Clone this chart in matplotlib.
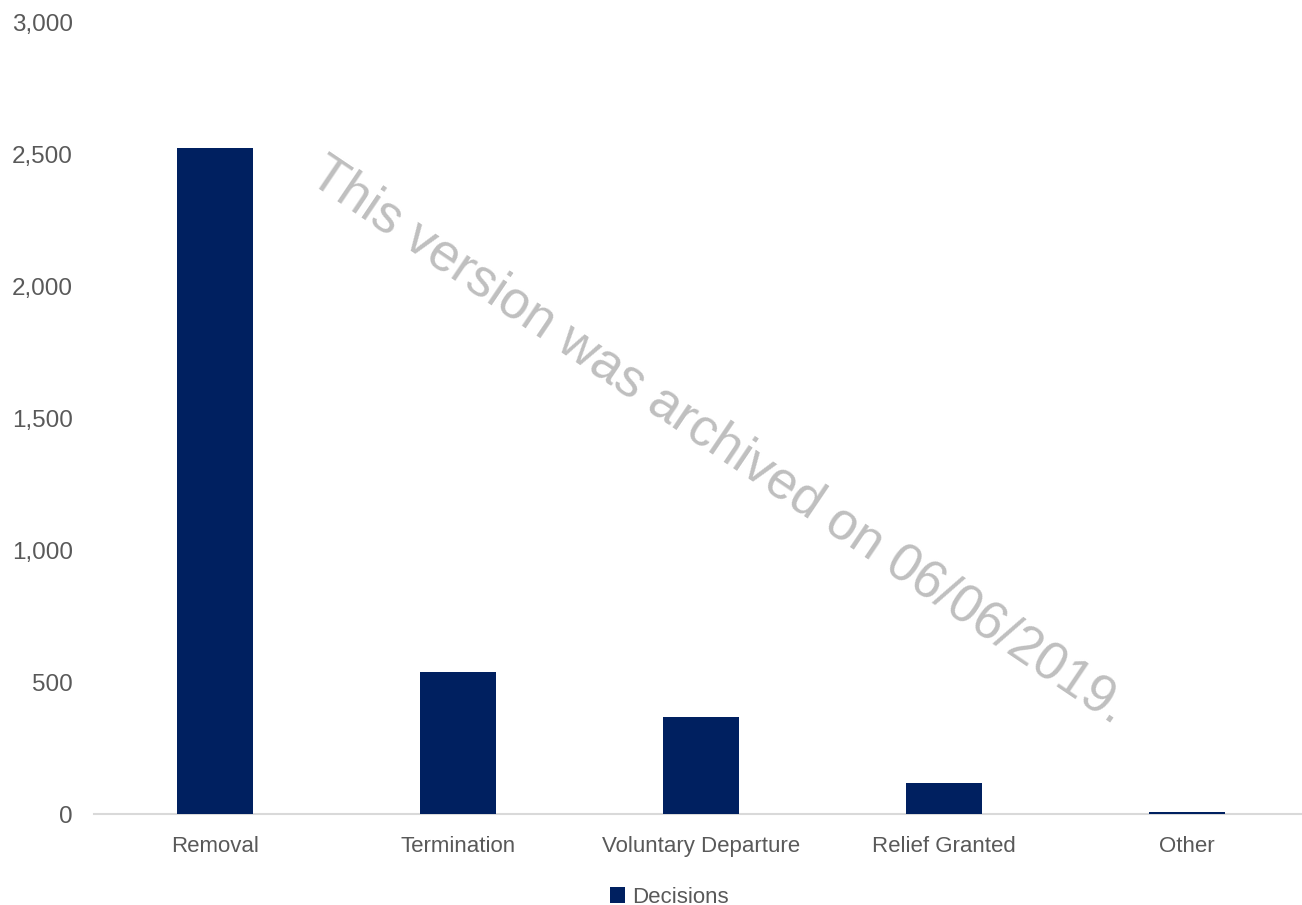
import numpy as np
import matplotlib.pyplot as plt

categories = ["Removal", "Termination", "Voluntary Departure", "Relief Granted", "Other"]
decisions = [2523, 538, 368, 117, 9]
yticks = [0, 500, 1000, 1500, 2000, 2500, 3000]

plt.rcParams['font.family'] = ['Liberation Sans', 'DejaVu Sans']

fig = plt.figure(figsize=(13.02, 9.05), dpi=100)
# category band runs a little past the right edge of the figure, as in the original
ax = fig.add_axes([93.5/1302, 1-814/905, 1215/1302, (814-22)/905])

x = np.arange(len(categories))
ax.bar(x, decisions, width=0.313, color='#002060', label='Decisions', zorder=3)

ax.set_xlim(-0.5, len(categories) - 0.5)
ax.set_ylim(0, 3000)
ax.set_yticks(yticks)
ax.set_yticklabels([f"{v:,}" for v in yticks])
ax.set_xticks(x)
ax.set_xticklabels(categories)
ax.tick_params(axis='both', length=0, colors='#595959', labelsize=16)
ax.tick_params(axis='y', pad=15, labelsize=17.5)
ax.tick_params(axis='x', pad=15.5)

for s in ['top', 'right', 'left']:
    ax.spines[s].set_visible(False)
ax.spines['bottom'].set_color('#D9D9D9')
ax.spines['bottom'].set_linewidth(1.5)

leg = fig.legend(loc='center', bbox_to_anchor=(669/1302, 1-897/905), frameon=False,
                 fontsize=16, handlelength=0.7, handleheight=0.7, handletextpad=0.3)
for t in leg.get_texts():
    t.set_color('#595959')

# archive watermark
fig.text(718/1302, 1-441/905, "This version was archived on 06/06/2019.",
         rotation=-34, rotation_mode='anchor', ha='center', va='center',
         fontsize=38, color='#BFBFBF')

fig.savefig("out.png", dpi=100)
